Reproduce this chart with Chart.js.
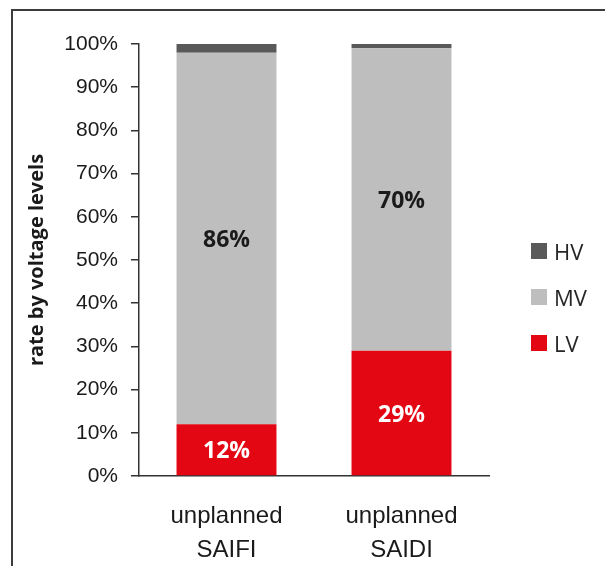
<!DOCTYPE html>
<html>
<head>
<meta charset="utf-8">
<script src="https://cdn.jsdelivr.net/npm/chart.js@4/dist/chart.umd.min.js"></script>
<style>
  html, body { margin: 0; padding: 0; background: #fff; overflow: hidden; }
  #wrap { position: relative; width: 605px; height: 566px; }
  #frame {
    position: absolute; left: 11px; top: 9px; right: -10px; bottom: -10px;
    border-top: 2px solid #3c3c3c; border-left: 2px solid #3c3c3c;
    pointer-events: none;
  }
  #legend { position: absolute; left: 531px; top: 243px; font-family: "Open Sans", sans-serif; }
  .item { display: flex; align-items: center; height: 16px; margin-bottom: 30px; }
  .swatch { width: 16px; height: 16px; }
  .label { margin-left: 7px; font-size: 22px; color: #262626; line-height: 16px; }
</style>
</head>
<body>
<div id="wrap">
  <canvas id="chart" width="605" height="566"></canvas>
  <div id="legend"></div>
  <div id="frame"></div>
</div>
<script>
// Share of unplanned interruptions by voltage level (percent)
const categories = [['unplanned', 'SAIFI'], ['unplanned', 'SAIDI']];
const lvShare = [12, 29];
const mvShare = [86, 70];
const hvShare = [2, 1];
const yTicks = [0, 10, 20, 30, 40, 50, 60, 70, 80, 90, 100];

const seriesNames = ['LV', 'MV', 'HV'];
const seriesColors = ['#e30613', '#bfbebe', '#595959'];
const labelColors = ['#ffffff', '#1a1a1a', null];

// Writes each LV / MV share inside its own bar segment
const segmentLabels = {
  id: 'segmentLabels',
  afterDatasetsDraw(chart) {
    const ctx = chart.ctx;
    ctx.save();
    ctx.font = 'bold 23px "Open Sans", sans-serif';
    ctx.textAlign = 'center';
    ctx.textBaseline = 'middle';
    chart.data.datasets.forEach((ds, di) => {
      const color = labelColors[di];
      if (!color) return;
      const meta = chart.getDatasetMeta(di);
      meta.data.forEach((bar, i) => {
        const v = ds.data[i];
        ctx.fillStyle = color;
        ctx.fillText(v + '%', bar.x, (bar.y + bar.base) / 2 + 2);
      });
    });
    ctx.restore();
  }
};

const chart = new Chart(document.getElementById('chart'), {
  type: 'bar',
  data: {
    labels: categories,
    datasets: [
      { label: seriesNames[0], data: lvShare, backgroundColor: seriesColors[0] },
      { label: seriesNames[1], data: mvShare, backgroundColor: seriesColors[1] },
      { label: seriesNames[2], data: hvShare, backgroundColor: seriesColors[2] }
    ]
  },
  options: {
    responsive: false,
    animation: false,
    layout: { padding: { left: 12, right: 116, top: 44, bottom: 2 } },
    datasets: { bar: { barPercentage: 0.571, categoryPercentage: 1, borderWidth: 0 } },
    plugins: {
      legend: { display: false },
      tooltip: { enabled: false }
    },
    scales: {
      x: {
        stacked: true,
        grid: { display: false },
        border: { display: true, color: '#333', width: 1.5 },
        ticks: {
          color: '#1a1a1a',
          padding: 16,
          font: { family: '"Liberation Sans", Arial, sans-serif', size: 24, lineHeight: 1.4 }
        },
        afterFit(scale) { scale.height = 88; }
      },
      y: {
        stacked: true,
        min: 0,
        max: 100,
        afterBuildTicks(scale) { scale.ticks = yTicks.map(v => ({ value: v })); },
        grid: { display: true, drawOnChartArea: false, drawTicks: true, tickLength: 8, color: '#333', lineWidth: 1.5 },
        border: { display: true, color: '#333', width: 1.5 },
        ticks: {
          color: '#1a1a1a',
          padding: 13,
          font: { family: '"Liberation Sans", Arial, sans-serif', size: 21 },
          callback: v => v + '%'
        },
        title: {
          display: true,
          text: 'rate by voltage levels',
          color: '#1a1a1a',
          font: { family: '"Open Sans", sans-serif', size: 20, weight: 'bold', lineHeight: 1.2 },
          padding: { top: 13, bottom: 0 }
        },
        afterFit(scale) { scale.width = 127; }
      }
    }
  },
  plugins: [segmentLabels]
});

// Legend, top to bottom in the order the layers sit in the stack
const legendEl = document.getElementById('legend');
chart.data.datasets.slice().reverse().forEach(ds => {
  const item = document.createElement('div');
  item.className = 'item';
  const sw = document.createElement('div');
  sw.className = 'swatch';
  sw.style.background = ds.backgroundColor;
  const tx = document.createElement('span');
  tx.className = 'label';
  tx.textContent = ds.label;
  item.appendChild(sw);
  item.appendChild(tx);
  legendEl.appendChild(item);
});
</script>
</body>
</html>
